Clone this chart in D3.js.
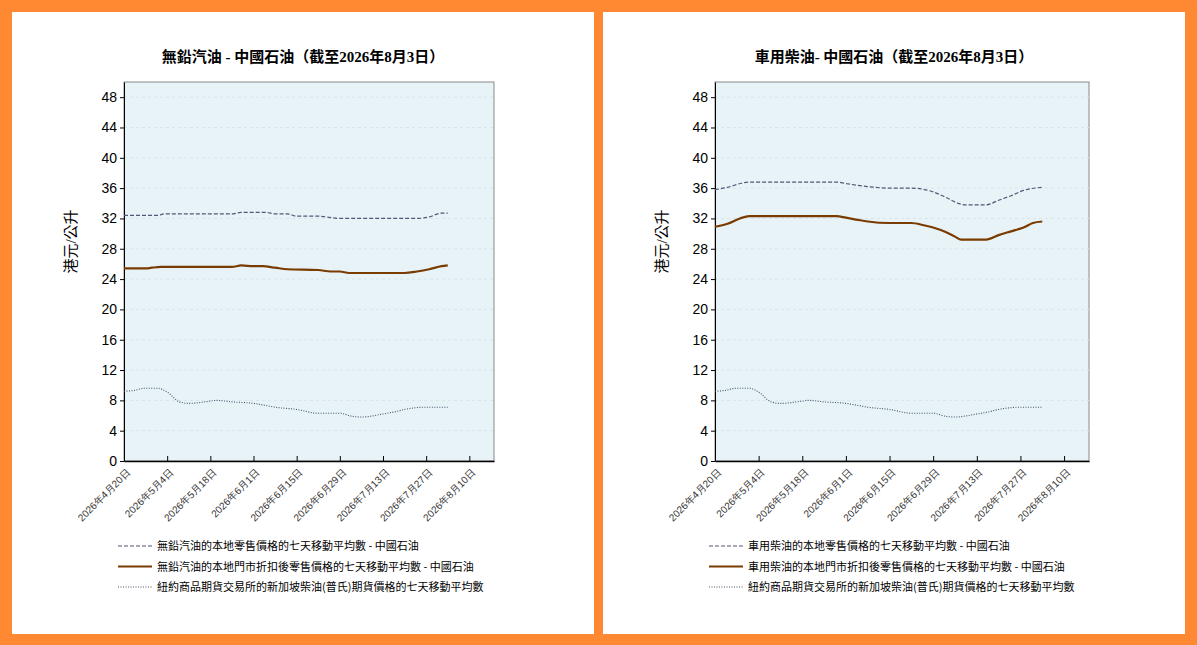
<!DOCTYPE html>
<html><head><meta charset="utf-8">
<script src="https://cdn.jsdelivr.net/npm/d3@7"></script>
<style>
body{margin:0;background:#ff8833;font-family:"Liberation Serif","Noto Sans CJK TC",serif;}
svg{display:block}
</style></head><body>
<svg id="chart" width="1197" height="645"></svg>
<script>
const parse = d3.timeParse("%Y-%m-%d");

// données par panneau : [date, valeur]
const panels = [
  {
    x0: 12, pw: 370, title: "無鉛汽油 - 中國石油（截至2026年8月3日）",
    legend: ["無鉛汽油的本地零售價格的七天移動平均數 - 中國石油",
             "無鉛汽油的本地門市折扣後零售價格的七天移動平均數 - 中國石油",
             "紐約商品期貨交易所的新加坡柴油(普氏)期貨價格的七天移動平均數"],
    retail: [["04-20",32.4],["05-01",32.4],["05-03",32.6],["05-25",32.6],["05-28",32.8],["06-05",32.8],["06-08",32.6],["06-12",32.6],["06-15",32.3],["06-22",32.3],["06-29",32.0],["07-24",32.0],["07-28",32.2],["08-01",32.7],["08-03",32.7]],
    discount: [["04-20",25.4],["04-27",25.4],["04-29",25.5],["05-02",25.6],["05-25",25.6],["05-28",25.8],["06-01",25.7],["06-04",25.7],["06-08",25.5],["06-12",25.3],["06-22",25.2],["06-26",25.0],["06-29",25.0],["07-02",24.8],["07-20",24.8],["07-24",25.0],["07-28",25.3],["08-01",25.7],["08-03",25.8]],
    futures: [["04-20",9.2],["04-23",9.3],["04-27",9.6],["05-01",9.6],["05-04",9.1],["05-08",7.8],["05-11",7.6],["05-18",7.9],["05-20",8.0],["05-25",7.8],["06-01",7.6],["06-04",7.4],["06-08",7.1],["06-15",6.8],["06-22",6.3],["06-29",6.3],["07-03",5.9],["07-06",5.8],["07-13",6.2],["07-17",6.5],["07-20",6.8],["07-27",7.1],["08-03",7.1]]
  },
  {
    x0: 603, pw: 374, title: "車用柴油- 中國石油（截至2026年8月3日）",
    legend: ["車用柴油的本地零售價格的七天移動平均數 - 中國石油",
             "車用柴油的本地門市折扣後零售價格的七天移動平均數 - 中國石油",
             "紐約商品期貨交易所的新加坡柴油(普氏)期貨價格的七天移動平均數"],
    retail: [["04-20",35.8],["04-24",36.1],["04-29",36.7],["05-02",36.8],["05-29",36.8],["06-01",36.6],["06-08",36.2],["06-15",36.0],["06-22",36.0],["06-29",35.5],["07-03",34.8],["07-07",34.0],["07-09",33.8],["07-16",33.8],["07-20",34.4],["07-24",35.0],["07-28",35.7],["08-03",36.1]],
    discount: [["04-20",30.9],["04-24",31.3],["04-28",32.0],["05-01",32.3],["05-29",32.3],["06-01",32.1],["06-05",31.8],["06-08",31.6],["06-15",31.4],["06-22",31.4],["06-26",31.1],["06-29",30.8],["07-03",30.2],["07-06",29.6],["07-08",29.2],["07-16",29.2],["07-20",29.8],["07-24",30.3],["07-28",30.8],["07-31",31.4],["08-03",31.6]],
    futures: [["04-20",9.2],["04-23",9.3],["04-27",9.6],["05-01",9.6],["05-04",9.1],["05-08",7.8],["05-11",7.6],["05-18",7.9],["05-20",8.0],["05-25",7.8],["06-01",7.6],["06-04",7.4],["06-08",7.1],["06-15",6.8],["06-22",6.3],["06-29",6.3],["07-03",5.9],["07-06",5.8],["07-13",6.2],["07-17",6.5],["07-20",6.8],["07-27",7.1],["08-03",7.1]]
  }
];

const svg = d3.select("#chart");
const series = [
  {key: "retail", color: "#555577", width: 1.2, dash: "4,2"},
  {key: "discount", color: "#7a3b00", width: 2.2, dash: null},
  {key: "futures", color: "#445566", width: 1.1, dash: "1,1.5"}
];

panels.forEach(p => {
  const g = svg.append("g").attr("transform", `translate(${p.x0},12)`);
  g.append("rect").attr("width", 582).attr("height", 622).attr("fill", "#fff");

  const left = 112, top = 70, w = p.pw, h = 379;
  const x = d3.scaleTime().domain([parse("2026-04-20"), parse("2026-08-18")]).range([left, left + w]);
  const y = d3.scaleLinear().domain([0, 50]).range([top + h, top]);

  g.append("rect").attr("x", left).attr("y", top).attr("width", w).attr("height", h)
    .attr("fill", "#e8f3f8").attr("stroke", "#888");

  g.append("text").attr("x", 291).attr("y", 50).attr("text-anchor", "middle")
    .attr("font-size", 15).attr("font-weight", "bold").text(p.title);

  const yTicks = d3.range(0, 49, 4);
  g.selectAll(".grid").data(yTicks.slice(1)).join("line")
    .attr("x1", left).attr("x2", left + w).attr("y1", y).attr("y2", y)
    .attr("stroke", "#d8e4ea").attr("stroke-dasharray", "3,3");

  const ya = g.append("g").attr("transform", `translate(${left},0)`)
    .call(d3.axisLeft(y).tickValues(yTicks).tickSize(4).tickSizeOuter(0));
  ya.selectAll("text").attr("font-size", 14).attr("font-family", "Liberation Sans Narrow, Liberation Sans, sans-serif");
  ya.select(".domain").attr("stroke", "#000");

  const xTicks = d3.range(9).map(i => d3.timeDay.offset(parse("2026-04-20"), i * 14));
  const xa = g.append("g").attr("transform", `translate(0,${top + h})`)
    .call(d3.axisBottom(x).tickValues(xTicks).tickSize(-5).tickSizeOuter(0)
      .tickFormat(d => `${d.getFullYear()}年${d.getMonth() + 1}月${d.getDate()}日`));
  xa.select(".domain").attr("stroke", "#000").attr("stroke-width", 1.5);
  xa.selectAll("text").attr("font-size", 10).attr("fill", "#333")
    .attr("text-anchor", "end").attr("transform", "translate(2,8) rotate(-45)").attr("dy", "0.3em");

  g.append("text").attr("transform", `translate(64,${top + h / 2 - 30}) rotate(-90)`)
    .attr("text-anchor", "middle").attr("font-size", 15).text("港元/公升");

  const line = d3.line().x(d => x(parse("2026-" + d[0]))).y(d => y(d[1])).curve(d3.curveMonotoneX);
  series.forEach(s => {
    g.append("path").datum(p[s.key]).attr("d", line).attr("fill", "none")
      .attr("stroke", s.color).attr("stroke-width", s.width).attr("stroke-dasharray", s.dash);
  });

  series.forEach((s, i) => {
    const ly = 534 + i * 20.5;
    g.append("line").attr("x1", 106).attr("x2", 140).attr("y1", ly).attr("y2", ly)
      .attr("stroke", s.color).attr("stroke-width", s.width).attr("stroke-dasharray", s.dash);
    g.append("text").attr("x", 145).attr("y", ly + 4).attr("font-size", 11)
      .attr("font-family", "Noto Sans CJK TC, sans-serif").text(p.legend[i]);
  });
});
</script>
</body></html>
